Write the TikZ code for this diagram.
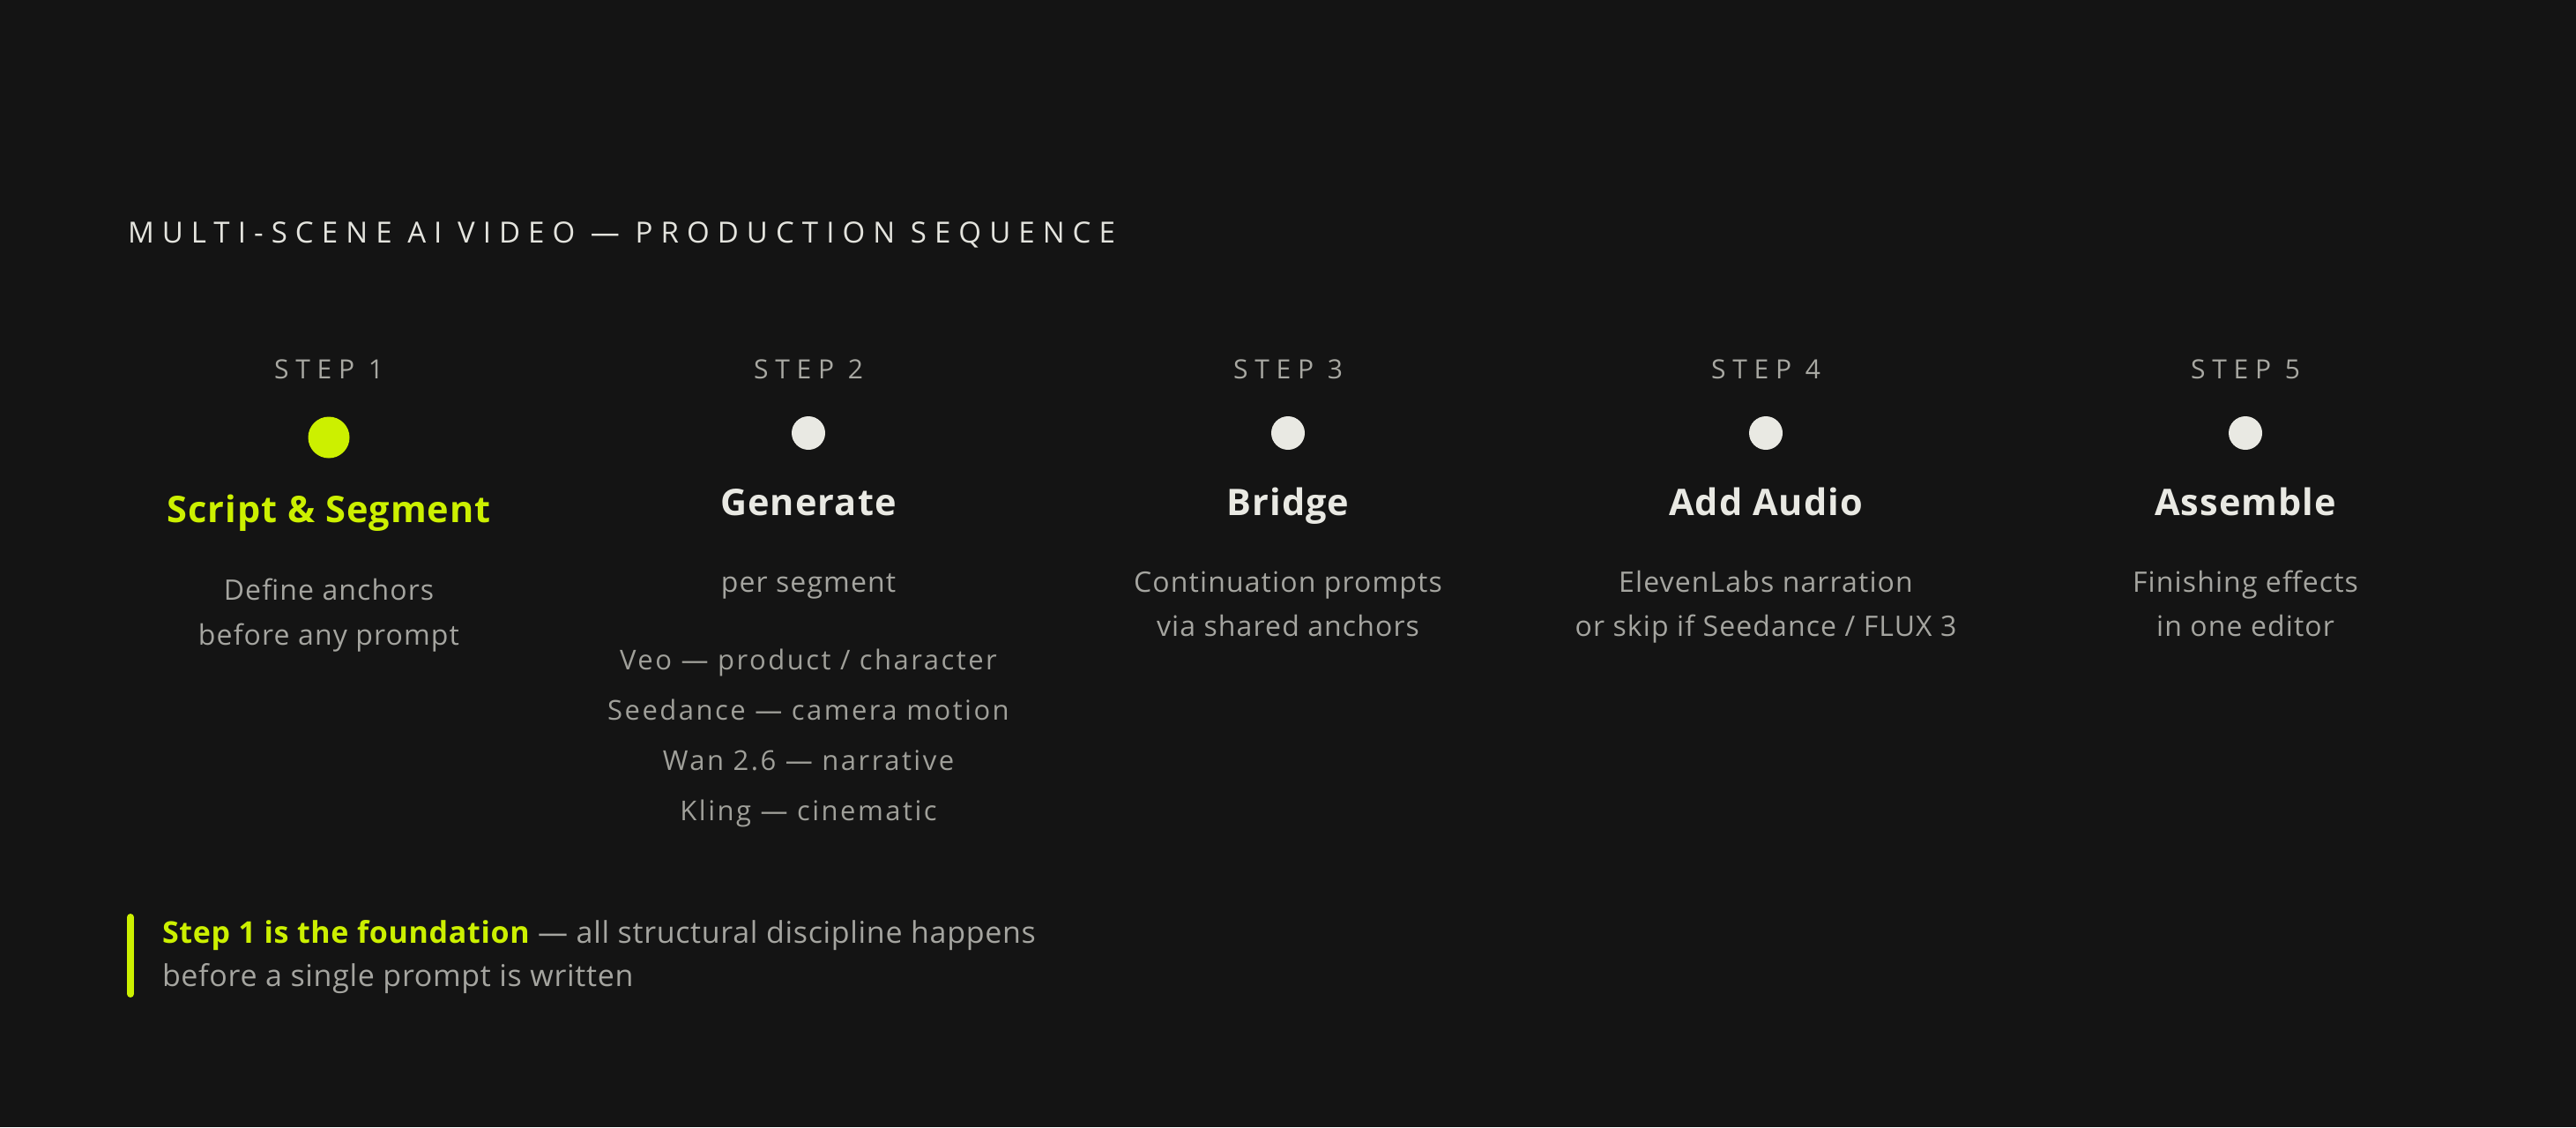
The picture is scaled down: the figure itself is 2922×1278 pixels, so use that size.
\documentclass[tikz,border=0pt]{standalone}
\usepackage{fontspec}
\setmainfont{Open Sans}[LetterSpace=3.5]
\newfontfamily\trackfont[LetterSpace=27.5]{Open Sans}
\newfontfamily\steplabfont[LetterSpace=26]{Open Sans}
\newfontfamily\listfont[LetterSpace=8]{Open Sans}
\newfontfamily\headfont[LetterSpace=2.5]{Open Sans}
\newfontfamily\calloutfont[LetterSpace=2]{Open Sans}
\definecolor{bgc}{HTML}{141414}
\definecolor{limec}{HTML}{CCF000}
\definecolor{whitec}{HTML}{E9E9E3}
\definecolor{descc}{HTML}{A5A5A0}
\definecolor{listc}{HTML}{A0A09A}
\definecolor{labc}{HTML}{A8A8A2}
\definecolor{titlec}{HTML}{E4E4DE}
\tikzset{
  txt/.style={anchor=base, inner sep=0pt, outer sep=0pt},
  maintitle/.style={txt, anchor=base west, text=titlec, font=\trackfont\fontsize{33}{40}\selectfont},
  steplab/.style={txt, text=labc, font=\steplabfont\fontsize{30}{36}\selectfont},
  stephead/.style={txt, text=whitec, font=\headfont\bfseries\fontsize{41.5}{50}\selectfont},
  activehead/.style={stephead, text=limec},
  desc/.style={txt, text=descc, font=\fontsize{32}{40}\selectfont},
  listitem/.style={txt, text=listc, font=\listfont\fontsize{31}{38}\selectfont},
  dotoff/.style={circle, fill=whitec, minimum size=38pt, inner sep=0pt},
  doton/.style={circle, fill=limec, minimum size=47pt, inner sep=0pt},
  callout/.style={txt, anchor=base west, text=descc, font=\calloutfont\fontsize{34}{42}\selectfont},
}
\begin{document}
\begin{tikzpicture}[x=1pt,y=-1pt]
\fill[bgc] (0,0) rectangle (2922,1278);
\useasboundingbox (0,0) rectangle (2922,1278);

\node[maintitle] (title) at (145,275) {MULTI-SCENE AI VIDEO — PRODUCTION SEQUENCE};

% Step 1
\node[steplab] (s1lab) at (373,429) {STEP 1};
\node[doton] (s1dot) at (373,496) {};
\node[activehead] (s1head) at (373,592) {Script \& Segment};
\node[desc] (s1d1) at (373,680) {Define anchors};
\node[desc] (s1d2) at (373,731) {before any prompt};

% Step 2
\node[steplab] (s2lab) at (917,429) {STEP 2};
\node[dotoff] (s2dot) at (917,491) {};
\node[stephead] (s2head) at (917,584) {Generate};
\node[desc] (s2d1) at (917,671) {per segment};
\node[listitem] (s2l1) at (917,759) {Veo — product / character};
\node[listitem] (s2l2) at (917,816) {Seedance — camera motion};
\node[listitem] (s2l3) at (917,873) {Wan 2.6 — narrative};
\node[listitem] (s2l4) at (917,930) {Kling — cinematic};

% Step 3
\node[steplab] (s3lab) at (1461,429) {STEP 3};
\node[dotoff] (s3dot) at (1461,491) {};
\node[stephead] (s3head) at (1461,584) {Bridge};
\node[desc] (s3d1) at (1461,671) {Continuation prompts};
\node[desc] (s3d2) at (1461,721) {via shared anchors};

% Step 4
\node[steplab] (s4lab) at (2003,429) {STEP 4};
\node[dotoff] (s4dot) at (2003,491) {};
\node[stephead] (s4head) at (2003,584) {Add Audio};
\node[desc] (s4d1) at (2003,671) {ElevenLabs narration};
\node[desc] (s4d2) at (2003,721) {or skip if Seedance / FLUX 3};

% Step 5
\node[steplab] (s5lab) at (2547,429) {STEP 5};
\node[dotoff] (s5dot) at (2547,491) {};
\node[stephead] (s5head) at (2547,584) {Assemble};
\node[desc] (s5d1) at (2547,671) {Finishing effects};
\node[desc] (s5d2) at (2547,721) {in one editor};

% Callout
\draw[limec, line width=8pt, line cap=round] (148,1040) -- (148,1127);
\node[callout] (c1) at (184,1069) {{\bfseries\color{limec}Step 1 is the foundation} — all structural discipline happens};
\node[callout] (c2) at (184,1118) {before a single prompt is written};
\end{tikzpicture}
\end{document}
